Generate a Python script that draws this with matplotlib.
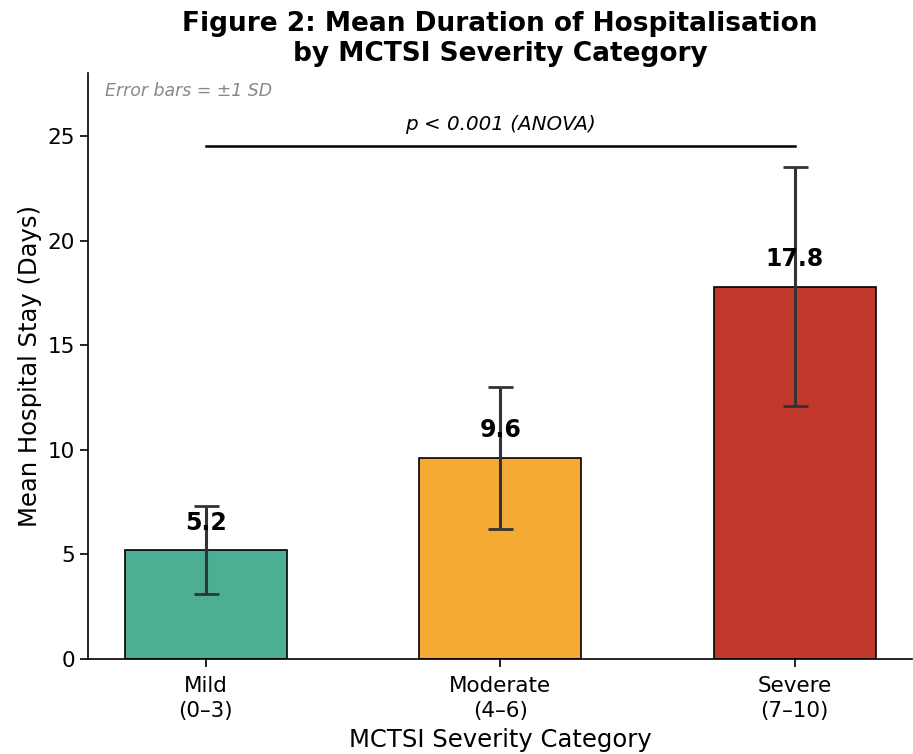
import matplotlib
matplotlib.use("Agg")
import matplotlib.pyplot as plt

categories = ["Mild\n(0–3)", "Moderate\n(4–6)", "Severe\n(7–10)"]
means = [5.2, 9.6, 17.8]
sds = [2.1, 3.4, 5.7]
colors = ["#4caf93", "#f4aa35", "#c0392b"]

fig = plt.figure(figsize=(9.13, 7.54), dpi=100)
ax = fig.add_axes([0.0964, 0.126, 0.903, 0.777])
x = list(range(len(categories)))
ax.bar(x, means, width=0.55, color=colors, edgecolor="black", linewidth=1.2, zorder=2)
ax.errorbar(x, means, yerr=sds, fmt="none", ecolor="#333333", elinewidth=2.2,
            capsize=9, capthick=2, zorder=3)
for xi, m in zip(x, means):
    ax.text(xi, m + 0.75, f"{m}", ha="center", va="bottom", fontsize=17,
            fontweight="bold", zorder=4)

ax.plot([0, 2], [24.5, 24.5], color="black", linewidth=1.8)
ax.text(1, 25.1, "p < 0.001 (ANOVA)", ha="center", va="bottom", fontsize=14.3,
        fontstyle="italic")
ax.text(0.02, 0.985, "Error bars = ±1 SD", transform=ax.transAxes, ha="left", va="top",
        fontsize=12.5, fontstyle="italic", color="#888888")

ax.set_xlim(-0.4, 2.4)
ax.set_ylim(0, 28)
ax.set_yticks([0, 5, 10, 15, 20, 25])
ax.set_xticks(x)
ax.set_xticklabels(categories, fontsize=15.5, linespacing=1.35)
ax.tick_params(axis="y", labelsize=15.5)
ax.tick_params(length=6, width=1.2)
ax.tick_params(axis="x", pad=6)
ax.set_xlabel("MCTSI Severity Category", fontsize=17.5, labelpad=5)
ax.set_ylabel("Mean Hospital Stay (Days)", fontsize=17.5)
ax.spines["top"].set_visible(False)
ax.spines["right"].set_visible(False)
ax.spines["left"].set_linewidth(1.2)
ax.spines["bottom"].set_linewidth(1.2)
ax.set_title("Figure 2: Mean Duration of Hospitalisation\nby MCTSI Severity Category",
             fontsize=19, fontweight="bold", pad=9)

fig.savefig("out.png", dpi=100)
